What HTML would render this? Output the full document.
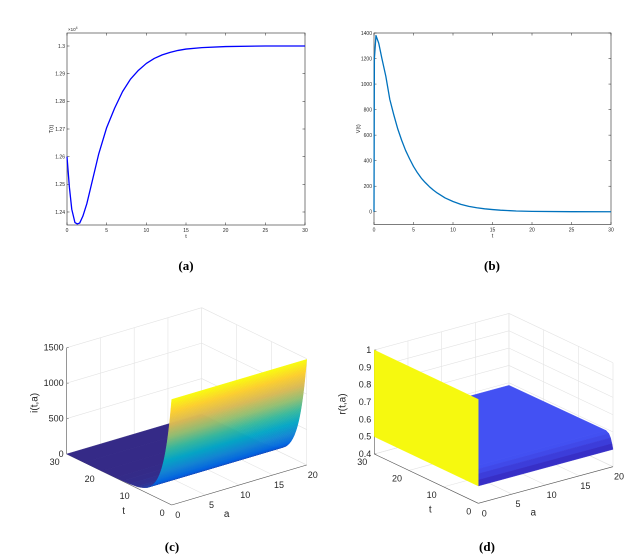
<!DOCTYPE html>
<html><head><meta charset="utf-8"><style>
html,body{margin:0;padding:0;background:#fff;}
svg{display:block;font-family:"Liberation Sans",sans-serif;}
.cap{font-family:"Liberation Serif",serif;font-weight:bold;font-size:13px;fill:#000;}
</style></head><body>
<svg id="fig" width="640" height="555" viewBox="0 0 640 555">
<rect width="640" height="555" fill="#fff"/>
<g id="pa"></g>
<g id="pb"></g>
<g id="pc"></g>
<g id="pd"></g>
<text class="cap" x="186" y="270" text-anchor="middle">(a)</text>
<text class="cap" x="492" y="270" text-anchor="middle">(b)</text>
<text class="cap" x="172" y="551" text-anchor="middle">(c)</text>
<text class="cap" x="487" y="551" text-anchor="middle">(d)</text>
</svg>
<script>
// ---- data ----
const tA=[0,0.3,0.6,1,1.3,1.6,2,2.5,3,3.5,4,5,6,7,8,9,10,11,12,13,14,15,17,20,25,30];
const valA=[1.26,1.249,1.241,1.2362,1.2357,1.236,1.2385,1.243,1.249,1.255,1.261,1.2705,1.2775,1.2835,1.288,1.2912,1.2937,1.2955,1.2968,1.2977,1.2984,1.2989,1.2994,1.2998,1.3,1.3];
const yTicksA=[1.24,1.25,1.26,1.27,1.28,1.29,1.3];
const yTickLabelsA=["1.24","1.25","1.26","1.27","1.28","1.29","1.3"];
const tB=[0,0.05,0.25,0.6,1,1.5,2,2.5,3,3.5,4,4.5,5,5.5,6,6.5,7,7.5,8,9,10,11,12,13,14,15,16,18,20,25,30];
const valB=[0,1200,1380,1320,1200,1060,880,760,650,560,480,415,355,305,262,228,197,170,147,108,80,58,42,31,23,17,12,6,3,0.5,0];
const yTicksB=[0,200,400,600,800,1000,1200,1400];
const xTicks2D=[0,5,10,15,20,25,30];
const tC=[0,0.25,0.5,0.75,1,1.25,1.5,1.75,2,2.25,2.5,2.75,3,3.5,4,4.5,5,5.5,6,7,8,9,10,12,14,16,20,25,30];
const valC=[1490,1341,1206,1086,977,879,792,712,641,577,520,468,421,341,277,224,182,147,119,78,52,34,22,10,4,2,0,0,0];
const zTicksC=[0,500,1000,1500];
const tD=[0,0.3,0.7,1.2,2,30];
const valD=[0.5,0.53,0.56,0.58,0.59,0.585];
const wallD=[0.5,1];
const zTicksD=[0.4,0.5,0.6,0.7,0.8,0.9,1];
const aTicks=[0,5,10,15,20];
const tTicks=[0,10,20,30];

const NS="http://www.w3.org/2000/svg";
function el(parent,tag,attrs,text){const e=document.createElementNS(NS,tag);for(const k in attrs)e.setAttribute(k,attrs[k]);if(text!==undefined)e.textContent=text;parent.appendChild(e);return e;}

// ---- 2D panels ----
function panel2D(g,box,xd,yd,xs,ys,yTicks,yLabels,color,ylab,expo,pfx){
  const X=v=>box.x0+(v-xd[0])/(xd[1]-xd[0])*(box.x1-box.x0);
  const Y=v=>box.y1-(v-yd[0])/(yd[1]-yd[0])*(box.y1-box.y0);
  let r=el(g,'rect',{x:box.x0,y:box.y0,width:box.x1-box.x0,height:box.y1-box.y0,fill:'#fff',stroke:'#262626','stroke-width':0.6});
  
  
  xTicks2D.forEach(v=>{
    const x=X(v);
    el(g,'line',{x1:x,y1:box.y1,x2:x,y2:box.y1-2.5,stroke:'#262626','stroke-width':0.5});
    el(g,'line',{x1:x,y1:box.y0,x2:x,y2:box.y0+2.5,stroke:'#262626','stroke-width':0.5});
    const t=el(g,'text',{x:x,y:box.y1+7,'font-size':5,'text-anchor':'middle',fill:'#262626'},String(v));
    
    
  });
  yTicks.forEach((v,i)=>{
    const y=Y(v);
    el(g,'line',{x1:box.x0,y1:y,x2:box.x0+2.5,y2:y,stroke:'#262626','stroke-width':0.5});
    el(g,'line',{x1:box.x1,y1:y,x2:box.x1-2.5,y2:y,stroke:'#262626','stroke-width':0.5});
    const t=el(g,'text',{x:box.x0-2,y:y+1.8,'font-size':5,'text-anchor':'end',fill:'#262626'},yLabels[i]);
    
    
  });
  let d='';xs.forEach((v,i)=>{d+=(i?'L':'M')+X(v).toFixed(2)+' '+Y(ys[i]).toFixed(2);});
  const p=el(g,'path',{d:d,fill:'none',stroke:color,'stroke-width':1.3,'stroke-linejoin':'round'});
  
  
  const xl=el(g,'text',{x:(box.x0+box.x1)/2,y:box.y1+13,'font-size':5.5,'text-anchor':'middle',fill:'#262626'},'t');
  
  
  const cy=(box.y0+box.y1)/2;
  const yl=el(g,'text',{x:box.x0-14,y:cy,'font-size':5.5,'text-anchor':'middle',fill:'#262626',transform:'rotate(-90 '+(box.x0-14)+' '+cy+')'},ylab);
  
  
  if(expo){
    const ex=el(g,'text',{x:box.x0+1,y:box.y0-2,'font-size':4.5,fill:'#262626'},'×10');
    el(ex,'tspan',{'font-size':3.5,dy:-2},'4');
    
    
  }
}
panel2D(document.getElementById('pa'),{x0:67,x1:305,y0:33,y1:225},[0,30],[1.2353,1.3047],tA,valA,yTicksA,yTicksA.map((v,i)=>yTickLabelsA[i]),'#0000ff','T(t)',true,'panel-a');
panel2D(document.getElementById('pb'),{x0:374,x1:611,y0:33,y1:224.5},[0,30],[-100,1400],tB,valB,yTicksB,yTicksB.map(String),'#0072bd','V(t)',false,'panel-b');

// ---- 3D panels ----
const parulaStops=[[0,53,42,135],[0.125,3,99,225],[0.25,20,133,212],[0.375,6,167,198],[0.5,56,185,158],[0.625,146,191,115],[0.75,217,186,86],[0.875,252,206,46],[1,249,251,14]];
function parula(f){f=Math.max(0,Math.min(1,f));for(let i=1;i<parulaStops.length;i++){const a=parulaStops[i-1],b=parulaStops[i];if(f<=b[0]){const u=(f-a[0])/(b[0]-a[0]);return 'rgb('+[1,2,3].map(k=>Math.round(a[k]+u*(b[k]-a[k]))).join(',')+')';}}return 'rgb(249,251,14)';}

function axes3D(g,P,zTicks,zLabels,zlab,pfx){
  const pr=(t,a,z)=>[P.ox+a*P.uax+t*P.utx,P.oy+a*P.uay+t*P.uty-(z-P.z0)*P.zs];
  const L=(p,q,c,w)=>el(g,'line',{x1:p[0],y1:p[1],x2:q[0],y2:q[1],stroke:c,'stroke-width':w});
  const zmin=P.z0,zmax=zTicks[zTicks.length-1];
  const grid='#e3e3e3';
  zTicks.forEach(z=>{L(pr(30,0,z),pr(30,20,z),grid,0.6);L(pr(30,20,z),pr(0,20,z),grid,0.6);});
  aTicks.forEach(a=>{L(pr(30,a,zmin),pr(30,a,zmax),grid,0.6);L(pr(0,a,zmin),pr(30,a,zmin),grid,0.6);});
  tTicks.forEach(t=>{L(pr(t,20,zmin),pr(t,20,zmax),grid,0.6);L(pr(t,0,zmin),pr(t,20,zmin),grid,0.6);});
  L(pr(30,0,zmin),pr(30,0,zmax),'#555',0.6);
  L(pr(0,0,zmin),pr(30,0,zmin),'#555',0.6);
  L(pr(0,0,zmin),pr(0,20,zmin),'#555',0.6);
  zTicks.forEach((z,i)=>{const p=pr(30,0,z);L(p,[p[0]+2,p[1]],'#555',0.5);
    const t=el(g,'text',{x:p[0]-3,y:p[1]+3,'font-size':9,'text-anchor':'end',fill:'#262626'},zLabels[i]);
    
    });
  tTicks.forEach(tv=>{const p=pr(tv,0,zmin);
    const t=el(g,'text',{x:p[0]-7,y:p[1]+11,'font-size':9,'text-anchor':'end',fill:'#262626'},String(tv));
    
    });
  aTicks.forEach(av=>{const p=pr(0,av,zmin);
    const t=el(g,'text',{x:p[0]+6,y:p[1]+13,'font-size':9,'text-anchor':'middle',fill:'#262626'},String(av));
    
    });
  const o=pr(0,0,zmin);
  const tl=el(g,'text',{x:o[0]-48,y:o[1]+9,'font-size':10,'text-anchor':'middle',fill:'#262626'},'t');
  
  
  const al=el(g,'text',{x:o[0]+55,y:o[1]+12,'font-size':10,'text-anchor':'middle',fill:'#262626'},'a');
  
  
  const zc=pr(30,0,(zmin+zmax)/2);
  const zx=zc[0]-29,zy=zc[1]+2;
  const zl=el(g,'text',{x:zx,y:zy,'font-size':10,'text-anchor':'middle',fill:'#262626',transform:'rotate(-90 '+zx+' '+zy+')'},zlab);
  
  
  return pr;
}
const poly=(g,pts,fill)=>el(g,'polygon',{points:pts.map(p=>p[0].toFixed(2)+','+p[1].toFixed(2)).join(' '),fill:fill,stroke:fill,'stroke-width':0.4});

// panel c
(function(){
  const g=document.getElementById('pc');
  const P={ox:171.7,oy:505,uax:6.75,uay:-2.0,utx:-3.5,uty:-1.7,zs:106.3/1500,z0:0};
  const pr=axes3D(g,P,zTicksC,zTicksC.map(String),'i(t,a)','panel-c');
  const zmax=Math.max(...valC);
  const s=el(g,'g',{});
  
  
  for(let k=tC.length-2;k>=0;k--){
    const t0=tC[k],t1=tC[k+1],z0=valC[k],z1=valC[k+1];
    const n=Math.max(1,Math.ceil(Math.abs(z0-z1)/12));
    for(let j=0;j<n;j++){
      const u0=j/n,u1=(j+1)/n;
      const ta=t1+(t0-t1)*u0,tb=t1+(t0-t1)*u1;
      const za=z1+(z0-z1)*u0,zb=z1+(z0-z1)*u1;
      poly(s,[pr(ta,0,za),pr(ta,20,za),pr(tb,20,zb),pr(tb,0,zb)],parula((za+zb)/2/zmax));
    }
  }
})();

// panel d
(function(){
  const g=document.getElementById('pd');
  const P={ox:478.3,oy:503.3,uax:6.735,uay:-1.83,utx:-3.467,uty:-1.643,zs:173.3,z0:0.4};
  const pr=axes3D(g,P,zTicksD,zTicksD.map(v=>v===1?'1':v.toFixed(1)),'r(t,a)','panel-d');
  const s=el(g,'g',{});
  
  
  const shade=z=>{const f=Math.max(0,Math.min(1,(z-0.5)/0.09));const c0=[52,40,190],c1=[67,82,245];return 'rgb('+c0.map((v,i)=>Math.round(v+f*(c1[i]-v))).join(',')+')';};
  for(let k=tD.length-2;k>=0;k--){
    const t0=tD[k],t1=tD[k+1],z0=valD[k],z1=valD[k+1];
    poly(s,[pr(t1,0,z1),pr(t1,20,z1),pr(t0,20,z0),pr(t0,0,z0)],shade((z0+z1)/2));
  }
  const w=poly(s,[pr(30,0,wallD[0]),pr(30,0,wallD[1]),pr(0,0,wallD[1]),pr(0,0,wallD[0])],'#f6f90f');
  
  
})();
</script>
</body></html>
